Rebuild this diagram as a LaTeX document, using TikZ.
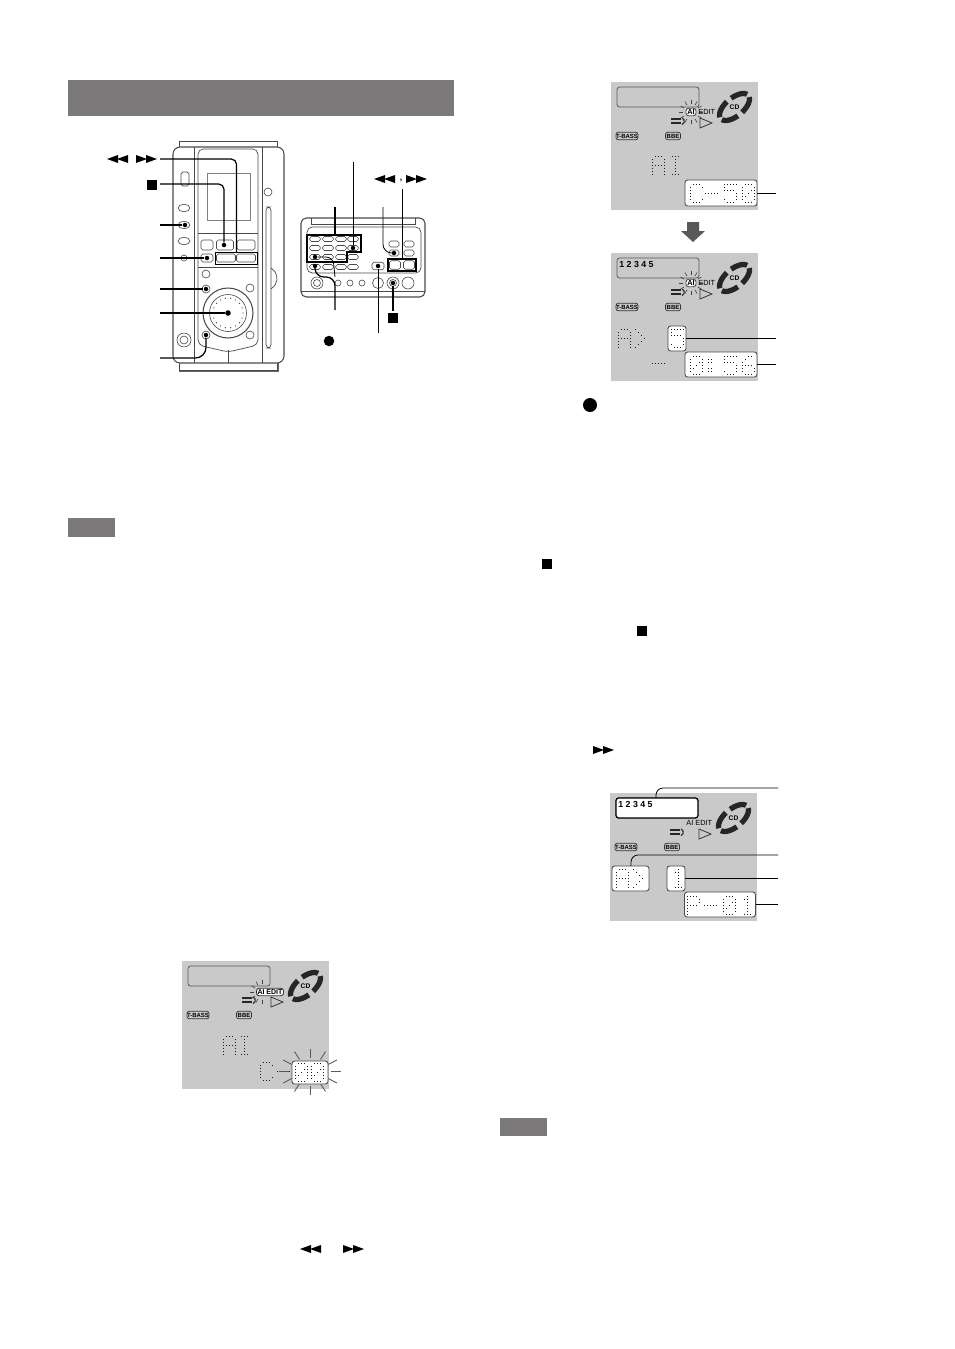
\documentclass[tikz,border=0pt]{standalone}
\usepackage{fontspec}
\setmainfont{Liberation Sans}
\usepackage{tikz}
\usetikzlibrary{shapes,arrows,positioning,calc,arrows.meta}
\definecolor{lcdgray}{HTML}{C9C9C9}
\definecolor{bargray}{HTML}{7B7979}
\definecolor{linegray}{HTML}{4A4A4A}

% dots of one LCD character: x, y, then the list of col/row pairs
\newcommand{\lcdchar}[3]{
    \foreach \c/\r in #3 {
        \fill [black!90] (#1+\c*3,#2+\r*3) rectangle +(1.4,1.4);
    }
}
\newcommand{\charA}{1/0,2/0,3/0,0/1,0/2,0/3,0/4,0/5,0/6,4/1,4/2,4/3,4/4,4/5,4/6,1/3,2/3,3/3}
\newcommand{\charI}{0/0,1/0,2/0,1/1,1/2,1/3,1/4,1/5,0/6,1/6,2/6}
\newcommand{\charC}{1/0,2/0,3/0,4/1,0/1,0/2,0/3,0/4,0/5,1/6,2/6,3/6,4/5}
\newcommand{\charP}{0/0,1/0,2/0,3/0,0/1,0/2,0/3,0/4,0/5,0/6,4/1,4/2,1/3,2/3,3/3}
\newcommand{\charO}{1/0,2/0,3/0,0/1,0/2,0/3,0/4,0/5,4/1,4/2,4/3,4/4,4/5,1/6,2/6,3/6,3/2,2/3,1/4}
\newcommand{\charS}{0/0,1/0,2/0,3/0,4/0,0/1,0/2,1/2,2/2,3/2,4/3,4/4,4/5,0/5,1/6,2/6,3/6}
\newcommand{\charB}{2/0,3/0,1/1,0/2,0/3,1/3,2/3,3/3,0/4,4/4,0/5,4/5,1/6,2/6,3/6}
\newcommand{\charT}{2/0,1/1,2/1,2/2,2/3,2/4,2/5,1/6,2/6,3/6}
\newcommand{\charArrow}{0/0,1/1,2/2,3/3,2/4,1/5,0/6}
\newcommand{\charDash}{0/3,1/3,2/3,3/3,4/3}
\newcommand{\charColon}{0/1,1/1,0/2,1/2,0/4,1/4,0/5,1/5}

\begin{document}
\begin{tikzpicture}[
    x=0.02cm, y=-0.02cm,
    lead/.style={draw=black, line width=0.7pt, rounded corners=3pt},
    thinlead/.style={draw=black, line width=0.45pt, rounded corners=2pt},
    pt/.style={circle, fill=black, minimum size=0.09cm, inner sep=0pt},
    btn/.style={draw=linegray, fill=white, rounded corners=1pt, line width=0.35pt, inner sep=0pt, minimum width=0.22cm, minimum height=0.11cm},
    knob/.style={draw=linegray, circle, line width=0.35pt, inner sep=0pt},
    part/.style={draw=linegray, line width=0.4pt},
    bar/.style={fill=bargray, inner sep=0pt},
    lcdbox/.style={draw=black!70, fill=white, rounded corners=1.5pt, line width=0.5pt, inner sep=0pt},
    tag/.style={draw=black!80, fill=lcdgray, rounded corners=1.2pt, line width=0.4pt, inner sep=0pt, minimum height=0.15cm, font=\fontsize{3.4}{4}\selectfont\bfseries},
    stopicon/.style={fill=black, minimum size=0.2cm, inner sep=0pt},
    recicon/.style={circle, fill=black, minimum size=0.21cm, inner sep=0pt},
    aibox/.style={lcdbox, minimum width=0.2cm, minimum height=0.15cm, font=\fontsize{4.2}{5}\selectfont\bfseries},
    rewicon/.pic={
        \fill (0,0) -- (11,-4) -- (11,4) -- cycle;
        \fill (10,0) -- (21,-4) -- (21,4) -- cycle;
    },
    fficon/.pic={
        \fill (11,0) -- (0,-4) -- (0,4) -- cycle;
        \fill (21,0) -- (10,-4) -- (10,4) -- cycle;
    },
    lcdbase/.pic={
        \fill [lcdgray] (0,0) rectangle (147,128);
        \draw [draw=black!65, line width=0.45pt, rounded corners=1.5pt] (6,5) rectangle (88,25);
        % CD mark
        \foreach \a/\b in {12/82, 100/170, 190/262, 280/350} {
            \draw [line width=3pt, black!85] plot [domain=\a:\b, samples=14, smooth] ({18*cos(\x)*cos(40)+9*sin(\x)*sin(40)+123.5}, {-18*cos(\x)*sin(40)+9*sin(\x)*cos(40)+25});
        }
        \node [font=\fontsize{3.8}{5}\selectfont\bfseries, inner sep=0pt] (-cd) at (123.5,25) {CD};
        \draw [black!80, line width=0.45pt, fill=lcdgray] (89,36) -- (101,41) -- (89,46) -- cycle;
        \draw [black!85, line width=1.1pt] (60,37) -- (70,37) (60,41) -- (70,41);
        \draw [black!85, line width=0.6pt] (71,36) arc (-70:70:3.5);
        \node [tag, minimum width=0.42cm] (-tbass) at (16,54) {T-BASS};
        \node [tag, minimum width=0.3cm] (-bbe) at (62,54) {BBE};
    }
]
    \useasboundingbox (0,0) rectangle (954,1349);

    % Grey bars
    \node [bar, minimum width=7.72cm, minimum height=0.72cm] (header) at (261,98) {};
    \node [bar, minimum width=0.94cm, minimum height=0.38cm] (noteleft) at (91.5,527.5) {};
    \node [bar, minimum width=0.94cm, minimum height=0.36cm] (noteright) at (523.5,1127) {};

    % Main unit
    \draw [part] (179,147) -- (179,141) -- (277,141) -- (277,147);
    \fill [black!60] (179,363) rectangle (279,372);
    \draw [part, fill=white] (179,362) rectangle (277,370);
    \draw [part, fill=white, line width=0.6pt, rounded corners=4pt] (173,147) -- (173,363) -- (284,363) -- (284,147) -- cycle;
    \draw [part] (194,147) -- (194,363) (262,147) -- (262,363) (228,350) -- (228,363);
    \draw [part, rounded corners=3pt] (198,149) -- (198,345) -- (228,352) -- (258,345) -- (258,149) -- cycle;
    \draw [part, black!50] (207,173) rectangle (250,220);
    \draw [part] (198,233) -- (258,233) (198,267) -- (258,267);
    \draw [part, rounded corners=2pt] (266,207) rectangle (271,348);
    \draw [part] (271,268) arc (-60:60:12);
    \node [knob, minimum size=0.16cm] (topknob) at (268,192) {};
    \draw [part, rounded corners=1pt] (181,172) rectangle (189,186);
    \foreach \ypos in {208, 241} {
        \node [btn, ellipse, minimum width=0.24cm, minimum height=0.14cm] at (184,\ypos) {};
    }
    \node [btn, ellipse, minimum width=0.24cm, minimum height=0.14cm] (memknob) at (184,225) {};
    \node [knob, minimum size=0.12cm] (smallknob) at (184,258) {};
    \node [knob, minimum size=0.28cm] (jack) at (184,340) {};
    \node [knob, minimum size=0.16cm] at (184,340) {};
    \node [btn, minimum width=0.24cm, minimum height=0.2cm] (btnA) at (207,245) {};
    \node [btn, minimum width=0.34cm, minimum height=0.2cm] (btnB) at (225,245) {};
    \node [btn, minimum width=0.36cm, minimum height=0.2cm] (btnC) at (246,245) {};
    \node [btn, minimum width=0.24cm, minimum height=0.16cm] (btnD) at (207,258) {};
    \node [btn, minimum width=0.38cm, minimum height=0.16cm] (btnE) at (226,258) {};
    \node [btn, minimum width=0.38cm, minimum height=0.16cm] (btnF) at (246,258) {};
    \node [draw=black, line width=0.8pt, minimum width=0.84cm, minimum height=0.23cm, inner sep=0pt] (skipframe) at (236.5,258.5) {};
    \node [knob, minimum size=0.16cm] at (206,274) {};
    \node [knob, minimum size=0.16cm] (knobA) at (206,289) {};
    \node [knob, minimum size=0.16cm] at (250,288) {};
    \node [knob, minimum size=0.16cm] at (250,335) {};
    \node [knob, minimum size=0.16cm] (knobB) at (206,335) {};

    % Dial
    \node [knob, minimum size=1cm, line width=0.6pt] (dial) at (228,313) {};
    \node [knob, minimum size=0.74cm] at (228,313) {};
    \foreach \a in {0,20,...,340} {
        \fill [black!70] (228,313) ++(\a:15) circle (0.7);
    }

    % Main unit connectors
    \node [pt] (stopdot) at (224,245) {};
    \node [pt] (memdot) at (185,225) {};
    \node [pt] (playdot) at (207,258) {};
    \node [pt] (knobAdot) at (206,289) {};
    \node [pt, minimum size=0.11cm] (dialdot) at (228,313) {};
    \node [pt] (knobBdot) at (206,335) {};
    \foreach \name/\ypos in {skip/159, stop/184, mem/225, play/258, knobA/289, dial/313, knobB/358} {
        \coordinate (\name-out) at (160,\ypos);
    }
    \draw [lead] (skip-out) -- (236.5,159) -- (skipframe.north);
    \draw [lead] (stop-out) -- (224,184) -- (stopdot);
    \draw [lead] (mem-out) -- (memdot);
    \draw [lead] (play-out) -- (playdot);
    \draw [lead] (knobA-out) -- (knobAdot);
    \draw [lead] (dial-out) -- (dialdot);
    \draw [lead, rounded corners=6pt] (knobB-out) -- (206,358) -- (knobBdot);

    \pic at (107,159) {rewicon};
    \pic at (136,159) {fficon};
    \node [stopicon] (stopA) at (152,184.5) {};

    % Remote
    \draw [part, line width=0.6pt, rounded corners=3pt] (301,218) rectangle (425,297);
    \draw [part] (301,291) -- (425,291);
    \draw [part] (311,218) -- (311,224) -- (415,224) -- (415,218);
    \draw [part, rounded corners=3pt] (307,227) rectangle (421,273);
    \foreach \i/\xpos in {1/315, 2/328, 3/341, 4/353} {
        \foreach \j/\ypos in {1/239, 2/248, 3/257, 4/267} {
            \node [btn, minimum width=0.21cm, minimum height=0.1cm] (key\i\j) at (\xpos,\ypos) {};
        }
    }
    \foreach \name/\xpos/\ypos in {sideA/394/244, sideB/409/244, sideC/394/253, sideD/409/253} {
        \node [btn, minimum width=0.2cm, minimum height=0.12cm] (\name) at (\xpos,\ypos) {};
    }
    \node [btn, minimum width=0.24cm, minimum height=0.15cm] (sideE) at (378,266) {};
    \node [btn, minimum width=0.22cm, minimum height=0.17cm] at (395,265) {};
    \node [btn, minimum width=0.22cm, minimum height=0.17cm] at (409,265) {};
    \node [draw=black, line width=0.7pt, minimum width=0.56cm, minimum height=0.24cm, inner sep=0pt] (skipbox) at (402,265) {};
    \draw [line width=0.8pt] (307,235) -- (361,235) -- (361,252) -- (347,252) -- (347,262) -- (307,262) -- cycle;
    \foreach \xpos/\size in {317/0.24, 338/0.12, 350/0.12, 362/0.12, 378/0.22, 393/0.24, 408/0.24} {
        \node [knob, minimum size=\size cm] at (\xpos,283) {};
    }
    \node [knob, minimum size=0.14cm] at (317,283) {};
    \node [knob, minimum size=0.14cm] at (393,283) {};

    % Remote connectors
    \coordinate (editup) at (353,162);
    \coordinate (numup) at (335,207);
    \coordinate (prgup) at (383,207);
    \coordinate (skipup) at (402,189);
    \coordinate (clearout) at (335,310);
    \coordinate (sideout) at (378,333);
    \coordinate (stopout) at (393,311);
    \node [pt] (editdot) at (353,248) {};
    \node [pt] (prgdot) at (394,253) {};
    \node [pt] (cleardot) at (315,266) {};
    \node [pt] (recdot) at (315,257) {};
    \node [pt] (sidedot) at (378,266) {};
    \node [pt] (stopdotB) at (393,283) {};
    \draw [thinlead] (editup) -- (editdot);
    \draw [lead] (numup) -- (335,235);
    \draw [thinlead, rounded corners=5pt] (prgup) -- (383,253) -- (prgdot);
    \draw [thinlead] (skipup) -- (skipup |- skipbox.north);
    \draw [lead, rounded corners=5pt] (clearout) -- (335,277) -- (315,277) -- (cleardot);
    \draw [thinlead, rounded corners=4pt] (recdot) -- (333,257) -- (335,277);
    \draw [thinlead] (sideout) -- (sidedot);
    \draw [lead, line width=1pt] (stopout) -- (stopdotB);

    \pic at (374,179) {rewicon};
    \node [font=\fontsize{5}{6}\selectfont\bfseries] (comma) at (401,181) {,};
    \pic at (406,179) {fficon};
    \node [stopicon] (stopB) at (393,318) {};
    \node [recicon] (recA) at (329,341) {};

    % Text marks of the right column
    \node [recicon, minimum size=0.28cm] (recB) at (590,405) {};
    \node [stopicon] (stopC) at (546.5,563.5) {};
    \node [stopicon] (stopD) at (641.5,630.5) {};
    \pic at (593,750) {fficon};
    \pic at (300,1249) {rewicon};
    \pic at (343,1249) {fficon};

    % Display 1
    \pic (first) at (611,82) {lcdbase};
    \begin{scope}[shift={(611,82)}]
        \foreach \a in {0,30,...,330} {
            \draw [black!75, line width=0.35pt] (80,30) ++(\a:8) -- ++(\a:4);
        }
        \node [aibox] (firstai) at (80,30) {AI};
        \node [anchor=west, inner sep=0pt, font=\fontsize{4.2}{5}\selectfont] (firstedit) at (87,30) {EDIT};
        \lcdchar{41}{74}{\charA}
        \lcdchar{61}{74}{\charI}
        \node [lcdbox, minimum width=1.44cm, minimum height=0.52cm] (firsttime) at (110,111) {};
        \lcdchar{79}{102}{\charC}
        \lcdchar{94}{102}{\charDash}
        \lcdchar{113}{102}{\charS}
        \lcdchar{131}{102}{\charO}
    \end{scope}
    \coordinate (firstout) at (776,193);
    \draw [thinlead] (firsttime) -- (firstout);

    % Down arrow
    \fill [black!65] (687,222) -- (699,222) -- (699,231) -- (705,231) -- (693,242) -- (681,231) -- (687,231) -- cycle;

    % Display 2
    \pic (second) at (611,253) {lcdbase};
    \begin{scope}[shift={(611,253)}]
        \node [anchor=west, inner sep=0pt, font=\fontsize{5}{6}\selectfont\bfseries] (secondtracks) at (8,11) {1 2 3 4 5};
        \foreach \a in {0,30,...,330} {
            \draw [black!75, line width=0.35pt] (80,30) ++(\a:8) -- ++(\a:4);
        }
        \node [aibox] (secondai) at (80,30) {AI};
        \node [anchor=west, inner sep=0pt, font=\fontsize{4.2}{5}\selectfont] (secondedit) at (87,30) {EDIT};
        \lcdchar{7}{76}{\charA}
        \lcdchar{24}{76}{\charArrow}
        \lcdchar{41}{101}{\charDash}
        \node [lcdbox, minimum width=0.36cm, minimum height=0.5cm] (secondtrack) at (66,85.5) {};
        \lcdchar{60}{76}{\charS}
        \node [lcdbox, minimum width=1.44cm, minimum height=0.5cm] (secondtime) at (110,111.5) {};
        \lcdchar{79}{103}{\charO}
        \lcdchar{97}{103}{\charColon}
        \lcdchar{113}{103}{\charS}
        \lcdchar{131}{103}{\charB}
    \end{scope}
    \coordinate (secondoutA) at (776,338.5);
    \coordinate (secondoutB) at (776,364.5);
    \draw [thinlead] (secondtrack) -- (secondoutA);
    \draw [thinlead] (secondtime) -- (secondoutB);

    % Display 3
    \pic (third) at (610,793) {lcdbase};
    \begin{scope}[shift={(610,793)}]
        \node [draw=black, fill=white, line width=0.7pt, rounded corners=1.5pt, minimum width=1.64cm, minimum height=0.4cm, inner sep=0pt] (thirdwin) at (47,15) {};
        \node [anchor=west, inner sep=0pt, font=\fontsize{5}{6}\selectfont\bfseries] (thirdtracks) at (8,11) {1 2 3 4 5};
        \node [anchor=west, inner sep=0pt, font=\fontsize{4.2}{5}\selectfont] (thirdedit) at (76,30) {AI EDIT};
        \node [lcdbox, minimum width=0.74cm, minimum height=0.5cm] (thirdprog) at (20.5,85.5) {};
        \lcdchar{6}{76}{\charA}
        \lcdchar{23}{76}{\charArrow}
        \node [lcdbox, minimum width=0.36cm, minimum height=0.5cm] (thirdtrack) at (66,85.5) {};
        \lcdchar{62}{76}{\charT}
        \node [lcdbox, minimum width=1.42cm, minimum height=0.5cm] (thirdtime) at (110,111.5) {};
        \lcdchar{77}{103}{\charP}
        \lcdchar{94}{103}{\charDash}
        \lcdchar{113}{103}{\charO}
        \lcdchar{131}{103}{\charT}
    \end{scope}
    \foreach \name/\ypos in {A/788, B/855, C/878.5, D/904.5} {
        \coordinate (thirdout\name) at (778,\ypos);
    }
    \draw [thinlead, rounded corners=4pt] (656,798) -- (656,788) -- (thirdoutA);
    \draw [thinlead, rounded corners=4pt] (631,866) -- (631,855) -- (thirdoutB);
    \draw [thinlead] (thirdtrack) -- (thirdoutC);
    \draw [thinlead] (thirdtime) -- (thirdoutD);

    % Display 4
    \pic (fourth) at (182,961) {lcdbase};
    \begin{scope}[shift={(182,961)}]
        \foreach \a in {90,120,...,270} {
            \draw [black!75, line width=0.35pt] (80,31) ++(\a:8) -- ++(\a:4);
        }
        \node [lcdbox, draw=black!80, minimum width=0.54cm, minimum height=0.15cm, font=\fontsize{4}{5}\selectfont\bfseries, text=black] (fourthedit) at (88,31) {AI EDIT};
        \lcdchar{41}{75}{\charA}
        \lcdchar{59}{75}{\charI}
        \lcdchar{78}{101}{\charC}
        \lcdchar{95}{101}{\charDash}
        \foreach \a in {0,30,...,330} {
            \draw [black!65, line width=0.5pt] (128,110.5) ++(\a:21 and 14) -- ++(\a:10 and 9);
        }
        \node [lcdbox, minimum width=0.72cm, minimum height=0.46cm] (fourthtime) at (128,111.5) {};
        \lcdchar{113}{102}{\charO}
        \lcdchar{129}{102}{\charO}
    \end{scope}
\end{tikzpicture}
\end{document}
